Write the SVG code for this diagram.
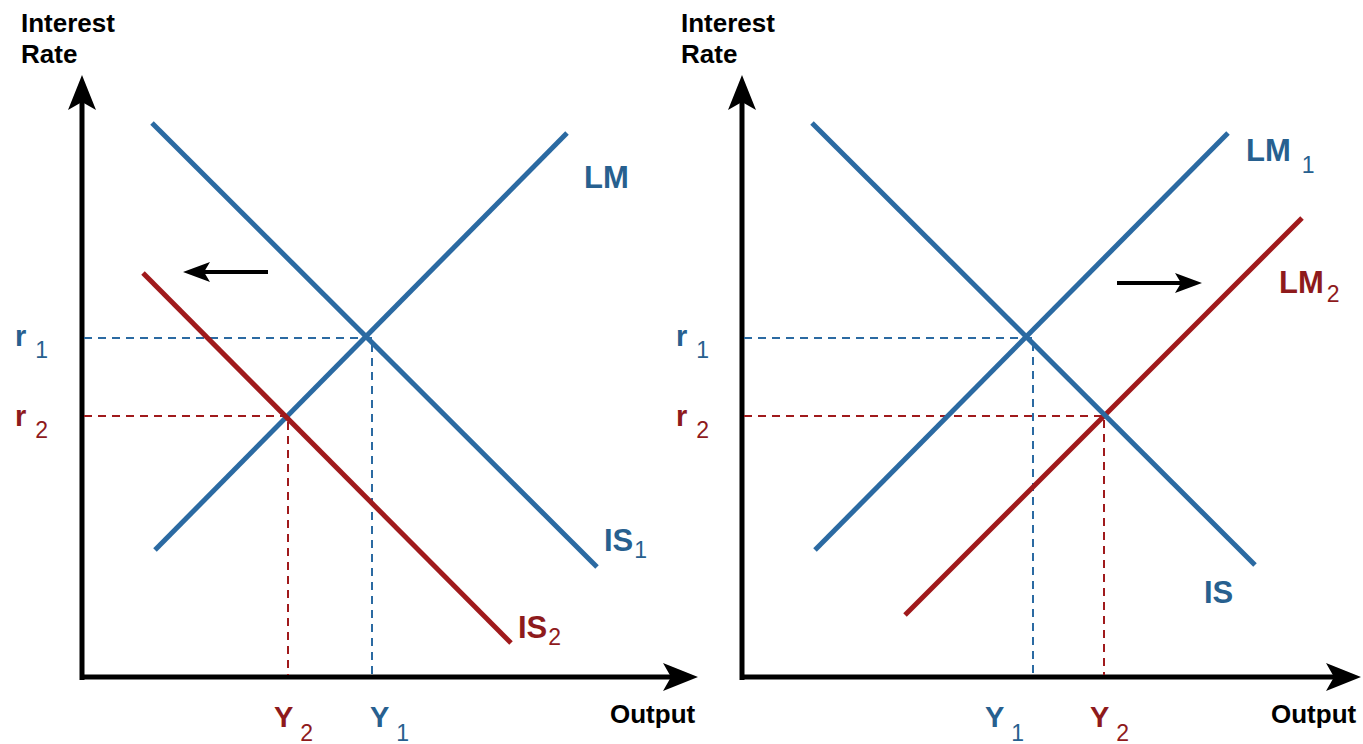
<svg xmlns="http://www.w3.org/2000/svg" width="1363" height="744" viewBox="0 0 1363 744">
<style>
.ax{stroke:#000;stroke-width:5;fill:none}
.sh{stroke:#000;stroke-width:4;fill:none}
.bl{stroke:#2b6aa2;stroke-width:5;fill:none;stroke-linecap:butt}
.rd{stroke:#a01a1c;stroke-width:5;fill:none}
.bd{stroke:#2b6aa2;stroke-width:2;stroke-dasharray:8 6;fill:none}
.rdd{stroke:#a01a1c;stroke-width:2;stroke-dasharray:8 6;fill:none}
text{font-family:"Liberation Sans",Arial,sans-serif}
.tl{font-size:26px;font-weight:bold;fill:#000}
.lb{font-size:31px;font-weight:bold}
.sym{font-size:29px;font-weight:bold}
.sub{font-size:23px;font-weight:normal}
.cb{fill:#27608f}
.cr{fill:#8e1a1c}
</style>
<defs>
<marker id="ah" markerUnits="userSpaceOnUse" orient="auto" overflow="visible" markerWidth="40" markerHeight="30">
<path d="M20,0 L-15,-14 L-7,0 L-15,14 Z" fill="#000"/>
</marker>
<marker id="sa" markerUnits="userSpaceOnUse" orient="auto" overflow="visible" markerWidth="30" markerHeight="20">
<path d="M10,0 L-17,-10 L-11,0 L-17,10 Z" fill="#000"/>
</marker>
</defs>

<g id="left-panel">
<g id="left-axes">
<line class="ax" x1="82" y1="680" x2="82" y2="95" marker-end="url(#ah)"/>
<line class="ax" x1="80" y1="677" x2="678" y2="677" marker-end="url(#ah)"/>
<text class="tl" x="21" y="32">Interest</text>
<text class="tl" x="21" y="63">Rate</text>
<text class="tl" x="610" y="723">Output</text>
</g>
<g id="left-guides">
<polyline class="bd" points="84,338 370,338 372,338 372,675"/>
<polyline class="rdd" points="84,416 288,416 288,675"/>
</g>
<g id="left-LM">
<line class="bl" x1="155" y1="550" x2="567" y2="133"/>
<text class="lb cb" x="584" y="188">LM</text>
</g>
<g id="left-IS1">
<line class="bl" x1="152" y1="123" x2="597" y2="567"/>
<text class="lb cb" x="604" y="551">IS<tspan class="sub" dx="1" dy="7">1</tspan></text>
</g>
<g id="left-IS2">
<line class="rd" x1="143" y1="273" x2="511" y2="643"/>
<text class="lb cr" x="518" y="638">IS<tspan class="sub" dx="1" dy="7">2</tspan></text>
</g>
<g id="left-shift">
<line class="sh" x1="268" y1="272" x2="193" y2="272" marker-end="url(#sa)"/>
</g>
<g id="left-labels">
<text class="sym cb" x="15" y="346">r<tspan class="sub" dx="9" dy="12">1</tspan></text>
<text class="sym cr" x="15" y="426">r<tspan class="sub" dx="9" dy="12">2</tspan></text>
<text class="sym cr" x="274" y="727">Y<tspan class="sub" dx="7" dy="14">2</tspan></text>
<text class="sym cb" x="370" y="727">Y<tspan class="sub" dx="7" dy="14">1</tspan></text>
</g>
</g>

<g id="right-panel">
<g id="right-axes">
<line class="ax" x1="742" y1="680" x2="742" y2="95" marker-end="url(#ah)"/>
<line class="ax" x1="740" y1="677" x2="1341" y2="677" marker-end="url(#ah)"/>
<text class="tl" x="681" y="32">Interest</text>
<text class="tl" x="681" y="63">Rate</text>
<text class="tl" x="1271" y="723">Output</text>
</g>
<g id="right-guides">
<polyline class="bd" points="744,338 1030,338 1033,338 1033,675"/>
<polyline class="rdd" points="744,416 1104,416 1104,675"/>
</g>
<g id="right-LM1">
<line class="bl" x1="815" y1="550" x2="1228" y2="133"/>
<text class="lb cb" x="1246" y="161">LM<tspan class="sub" dx="11" dy="12">1</tspan></text>
</g>
<g id="right-LM2">
<line class="rd" x1="905" y1="615" x2="1302" y2="218"/>
<text class="lb cr" x="1279" y="293">LM<tspan class="sub" dx="3" dy="9">2</tspan></text>
</g>
<g id="right-IS">
<line class="bl" x1="812" y1="123" x2="1255" y2="565"/>
<text class="lb cb" x="1204" y="603">IS</text>
</g>
<g id="right-shift">
<line class="sh" x1="1117" y1="283" x2="1192" y2="283" marker-end="url(#sa)"/>
</g>
<g id="right-labels">
<text class="sym cb" x="676" y="346">r<tspan class="sub" dx="9" dy="12">1</tspan></text>
<text class="sym cr" x="676" y="426">r<tspan class="sub" dx="9" dy="12">2</tspan></text>
<text class="sym cb" x="985" y="727">Y<tspan class="sub" dx="7" dy="14">1</tspan></text>
<text class="sym cr" x="1090" y="727">Y<tspan class="sub" dx="7" dy="14">2</tspan></text>
</g>
</g>
</svg>
